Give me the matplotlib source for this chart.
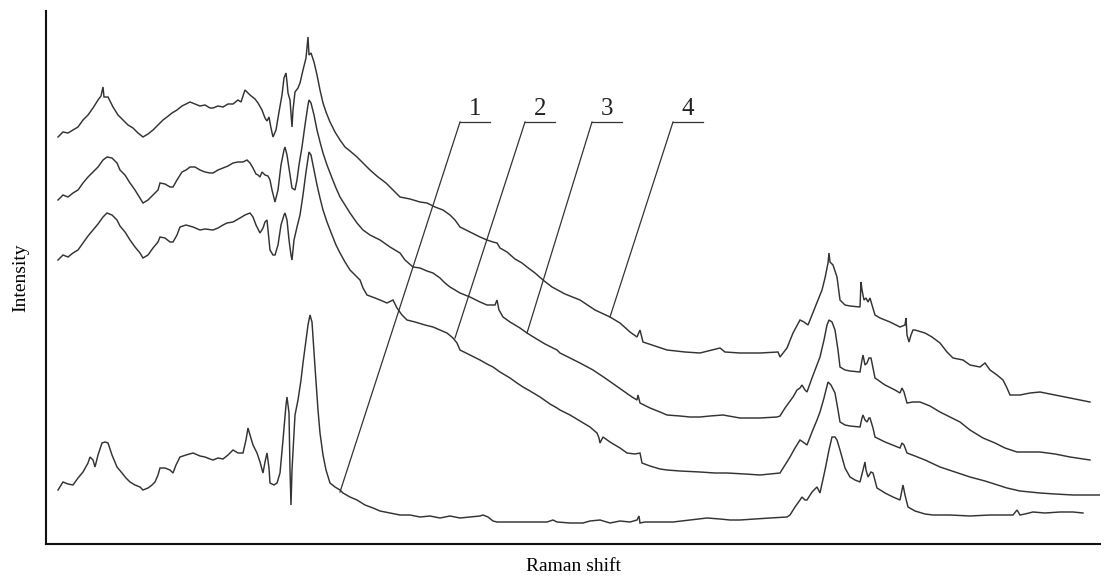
import matplotlib
matplotlib.use("Agg")
import matplotlib.pyplot as plt

# ---- data (arbitrary units) ----
shift_4 = [12,17,22,27,32,37,42,47,52,55,57,58,62,67,72,77,82,87,92,97,102,107,112,117,121,126,131,136,140,144,149,154,159,164,167,172,177,182,187,192,195,199,204,209,212,216,219,221,223,225,227,230,233,236,238,240,241,242,244,246,247,249,252,254,257,260,262,263,265,268,271,274,277,280,284,289,294,299,304,311,317,324,332,340,347,354,364,374,381,389,397,404,409,414,424,434,441,447,451,454,461,469,476,481,489,497,506,519,534,549,564,574,584,591,594,597,609,621,639,654,666,674,679,694,714,732,734,741,747,754,758,762,768,772,776,779,782,783,784,787,791,794,799,804,814,815,816,818,820,822,824,826,829,834,844,854,859,860,861,863,865,867,869,879,886,894,901,907,917,924,934,939,944,951,957,961,964,974,984,994,1004,1014,1029,1044]
int_4 = [407,412,411,414,417,424,429,436,444,448,457,447,447,437,429,424,419,416,411,407,410,414,419,424,427,431,434,438,440,442,440,438,439,436,436,438,437,440,440,444,442,454,449,445,441,434,426,423,427,416,407,414,432,449,466,471,462,451,444,417,434,452,456,461,474,486,507,489,491,482,469,454,441,432,422,412,404,397,393,387,381,374,367,361,354,347,345,342,341,337,334,329,324,317,312,307,304,302,301,296,292,285,281,277,271,264,257,250,244,234,227,221,212,207,214,202,198,194,192,191,194,196,192,191,191,192,187,196,211,224,222,219,234,244,254,266,281,291,282,279,267,244,239,238,237,262,254,244,246,242,246,239,229,226,222,217,219,226,209,202,209,214,214,211,207,201,192,186,184,179,177,181,174,169,164,156,149,149,151,152,150,148,145,142]

shift_3 = [12,17,22,27,32,37,42,47,52,57,61,66,71,74,79,84,89,94,97,102,107,112,114,119,124,127,131,136,140,144,149,154,159,164,167,172,177,182,187,192,197,201,204,207,210,212,214,216,219,222,224,226,229,232,235,238,239,241,244,246,249,251,253,256,259,262,263,265,268,271,274,277,281,286,290,294,299,304,311,317,324,334,344,354,359,367,374,381,387,394,399,404,414,424,434,441,449,451,453,457,464,474,481,489,499,511,514,524,534,547,559,569,579,586,591,592,594,604,614,621,634,644,654,664,677,694,714,731,734,739,747,751,754,756,759,761,766,771,774,778,781,783,786,789,792,794,799,804,814,816,817,819,821,823,825,827,829,839,849,854,856,858,861,867,874,884,894,904,914,924,937,949,959,971,984,994,1009,1024,1044]
int_3 = [344,349,347,351,354,361,367,372,377,384,387,386,381,374,369,361,354,346,341,344,349,354,361,360,357,357,364,372,374,377,377,374,372,371,371,374,376,378,381,382,382,384,381,376,370,369,367,372,369,368,364,354,342,354,379,394,397,389,369,356,354,364,379,397,419,439,444,441,429,414,402,391,379,366,356,347,339,331,321,314,309,304,297,291,284,277,276,273,271,266,261,257,251,247,242,239,239,244,234,227,222,216,211,206,200,194,191,186,181,174,166,159,152,147,144,149,141,136,132,129,128,127,127,128,129,126,126,127,128,136,147,154,156,159,154,152,166,179,187,204,219,224,222,214,194,177,174,173,172,184,189,179,181,186,186,176,166,159,154,151,156,152,141,142,142,138,132,127,122,114,106,101,96,92,92,92,90,87,84]

shift_2 = [12,17,22,27,32,37,42,47,52,57,61,66,71,74,79,84,89,94,97,102,107,112,114,119,124,127,131,134,140,147,154,159,167,172,177,181,187,194,199,204,207,210,214,217,219,221,223,224,227,229,232,235,238,239,241,243,245,246,248,251,254,257,260,263,265,268,271,274,277,281,286,290,294,299,304,311,314,317,321,329,334,341,347,351,356,361,369,379,387,394,401,407,411,414,424,434,441,447,454,464,471,477,484,494,504,511,514,524,534,544,551,553,554,557,564,574,581,589,594,596,604,614,621,634,654,669,681,699,714,724,734,739,744,749,754,757,761,766,771,774,778,782,785,789,792,794,799,804,814,816,817,819,821,823,824,827,829,839,849,854,856,858,861,869,879,894,909,924,939,961,974,994,1009,1027,1054]
int_2 = [284,289,287,291,294,301,308,314,320,327,331,329,324,318,312,304,297,291,286,289,296,302,307,306,302,302,309,317,319,317,314,315,314,316,319,321,322,326,329,331,327,319,311,316,322,324,304,294,289,289,299,319,329,331,324,304,289,284,304,317,329,349,372,392,389,374,359,346,334,322,309,299,291,282,274,267,264,256,249,246,244,241,244,236,229,224,222,219,217,214,211,206,201,194,189,184,180,177,172,166,161,157,153,147,140,136,134,129,123,117,111,106,101,107,102,96,91,90,91,81,78,75,74,73,72,71,71,70,69,70,71,79,87,96,104,102,99,112,124,132,146,162,159,151,134,122,119,118,117,126,129,124,122,126,126,116,107,102,98,96,101,99,91,88,84,77,72,67,63,56,53,51,50,49,49]

shift_1 = [12,17,22,27,32,37,42,44,47,49,52,56,59,62,66,71,76,80,84,89,94,97,102,106,109,112,114,119,124,127,130,134,140,147,154,159,164,167,172,177,182,187,192,197,200,202,204,207,211,214,217,219,221,223,224,228,231,234,237,240,241,242,243,244,245,246,249,252,255,257,260,262,264,266,269,272,274,277,280,284,289,294,297,304,311,319,327,334,344,354,364,374,384,394,404,414,424,434,437,442,447,451,464,479,501,507,511,524,537,544,554,564,574,584,591,593,594,599,609,627,644,661,674,684,694,709,724,741,744,749,754,756,759,761,766,771,774,779,783,786,789,791,794,799,804,809,814,817,819,820,822,825,827,831,839,847,854,856,857,859,862,869,879,887,904,924,944,959,967,971,974,979,987,999,1014,1027,1037]
int_1 = [54,62,60,59,66,72,81,87,84,77,89,101,102,101,89,77,71,66,62,59,57,54,56,59,62,69,76,76,74,71,79,87,89,91,88,87,85,84,86,85,89,94,91,91,104,116,109,99,91,82,71,82,91,76,61,59,61,71,104,139,147,139,131,74,39,74,129,144,164,181,204,219,229,222,177,134,111,89,74,61,57,54,51,47,44,39,36,33,31,29,29,27,28,26,28,26,27,28,29,27,23,22,22,22,22,24,22,21,21,23,24,21,23,22,24,28,21,22,22,22,24,26,25,24,24,25,26,27,29,37,44,47,44,44,52,57,51,74,94,107,107,104,94,76,67,64,62,74,82,74,67,72,71,56,51,47,44,54,59,49,37,33,30,29,29,28,29,29,29,34,29,30,32,31,32,32,31]

series = [(shift_1, int_1), (shift_2, int_2), (shift_3, int_3), (shift_4, int_4)]

labels = ["1", "2", "3", "4"]
label_x = [429, 494, 561, 642]          # label anchor (text centre)
label_y = 422                           # height of the label underline
underline_halfwidth = 15
leader_target_x = [294, 409, 481, 564]  # where each leader touches its curve
leader_target_y = [52, 206, 211, 227]

x_label = "Raman shift"
y_label = "Intensity"

# ---- figure ----
W, H, DPI = 1105, 577, 100
fig = plt.figure(figsize=(W / DPI, H / DPI), dpi=DPI)
ax = fig.add_axes([46 / W, (H - 544) / H, (1100 - 46) / W, (544 - 11) / H])
ax.set_xlim(0, 1054)
ax.set_ylim(0, 533)

line_color = "#333333"
for xs, ys in series:
    ax.plot(xs, ys, color=line_color, lw=1.05, solid_joinstyle="miter")

for lab, lx, tx, ty in zip(labels, label_x, leader_target_x, leader_target_y):
    x0 = lx - underline_halfwidth
    x1 = lx + underline_halfwidth
    ax.plot([x0, x1], [label_y, label_y], color=line_color, lw=0.9)
    ax.plot([x0, tx], [label_y, ty], color=line_color, lw=0.9)
    ax.text(lx, label_y + 2, lab, ha="center", va="bottom",
            fontsize=18, family="Liberation Serif", color="#222222")

for side in ("top", "right"):
    ax.spines[side].set_visible(False)
for side in ("left", "bottom"):
    ax.spines[side].set_linewidth(1.5)
    ax.spines[side].set_color("#111111")
ax.set_xticks([])
ax.set_yticks([])

ax.set_xlabel(x_label, fontsize=14, family="Liberation Serif", labelpad=10)
ax.set_ylabel(y_label, fontsize=14, family="Liberation Serif", labelpad=12)

fig.savefig("out.png", dpi=DPI)
